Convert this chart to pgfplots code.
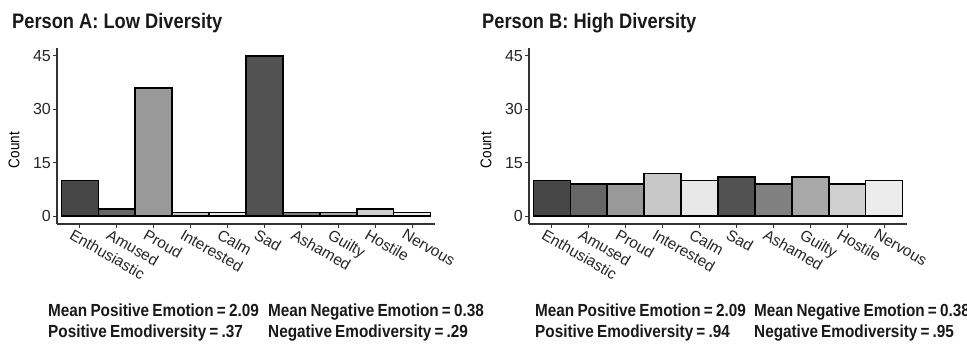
\documentclass[border=0pt]{standalone}
\usepackage{fontspec}
\setmainfont{Liberation Sans}
\newfontfamily\narrowsans[FakeStretch=0.875, WordSpace=0.75]{Liberation Sans}
\newfontfamily\titlesans[FakeStretch=0.87]{Liberation Sans}
\usepackage{pgfplots}
\pgfplotsset{compat=1.18}
\definecolor{c1}{HTML}{474747}
\definecolor{c2}{HTML}{666666}
\definecolor{c3}{HTML}{999999}
\definecolor{c4}{HTML}{C8C8C8}
\definecolor{c5}{HTML}{E8E8E8}
\definecolor{c6}{HTML}{525252}
\definecolor{c7}{HTML}{808080}
\definecolor{c8}{HTML}{A8A8A8}
\definecolor{c9}{HTML}{CFCFCF}
\definecolor{c10}{HTML}{ECECEC}
\definecolor{axc}{HTML}{333333}
\newcommand\mybar[3]{\addplot[fill=#1, draw=black, line width=1.6pt] coordinates {(#2,#3)};}
\pgfplotsset{
  emopanel/.style={
    scale only axis, width=378pt, height=176pt, anchor=south west,
    xmin=0.38, xmax=10.62, ymin=-2.25, ymax=47.25,
    axis lines=left, axis line style={-, line width=1.2pt, color=axc},
    ytick={0,15,30,45}, xtick={1,...,10},
    xticklabels={Enthusiastic,Amused,Proud,Interested,Calm,Sad,Ashamed,Guilty,Hostile,Nervous},
    tick align=outside, major tick length=4pt,
    tick style={line width=1pt, color=axc},
    /pgf/number format/assume math mode=true,
    yticklabel style={font=\fontsize{16}{18}\selectfont, text=black!85, inner sep=1pt, xshift=-1pt},
    xticklabel style={font=\fontsize{15.5}{17}\selectfont, text=black!85, rotate=-30, anchor=north west, inner sep=1pt, xshift=-6pt, yshift=-2pt},
    ylabel={Count},
    every axis y label/.style={at={(axis description cs:0,0.42)}, xshift=-43pt, rotate=90, anchor=center, font=\titlesans\fontsize{15.5}{17}\selectfont, text=black},
    ybar, bar width=1, bar shift=0pt,
    clip=false,
  }
}
\begin{document}
\begin{tikzpicture}[x=1pt,y=1pt]
\useasboundingbox (0pt,0pt) rectangle (967pt,343pt);
\begin{axis}[emopanel, at={(57pt,119pt)}]
\mybar{c1}{1}{10}
\mybar{c2}{2}{2}
\mybar{c3}{3}{36}
\mybar{c4}{4}{1}
\mybar{c5}{5}{1}
\mybar{c6}{6}{45}
\mybar{c7}{7}{1}
\mybar{c8}{8}{1}
\mybar{c9}{9}{2}
\mybar{c10}{10}{1}
\end{axis}
\begin{axis}[emopanel, at={(529pt,119pt)}]
\mybar{c1}{1}{10}
\mybar{c2}{2}{9}
\mybar{c3}{3}{9}
\mybar{c4}{4}{12}
\mybar{c5}{5}{10}
\mybar{c6}{6}{11}
\mybar{c7}{7}{9}
\mybar{c8}{8}{11}
\mybar{c9}{9}{9}
\mybar{c10}{10}{10}
\end{axis}
\node[anchor=base west, inner sep=0pt, font=\titlesans\bfseries\fontsize{21}{23}\selectfont, text=black!90] at (12pt,314pt) {Person A: Low Diversity};
\node[anchor=base west, inner sep=0pt, font=\titlesans\bfseries\fontsize{21}{23}\selectfont, text=black!90] at (482pt,314pt) {Person B: High Diversity};
\begin{scope}[every node/.style={anchor=base west, inner sep=0pt, font=\narrowsans\bfseries\fontsize{17.5}{19}\selectfont, text=black!90}]
\node at (48pt,26.5pt) {Mean Positive Emotion = 2.09};
\node at (268pt,26.5pt) {Mean Negative Emotion = 0.38};
\node at (48pt,6pt) {Positive Emodiversity = .37};
\node at (268pt,6pt) {Negative Emodiversity = .29};
\node at (535pt,26.5pt) {Mean Positive Emotion = 2.09};
\node at (754pt,26.5pt) {Mean Negative Emotion = 0.38};
\node at (535pt,6pt) {Positive Emodiversity = .94};
\node at (754pt,6pt) {Negative Emodiversity = .95};
\end{scope}
\end{tikzpicture}
\end{document}
